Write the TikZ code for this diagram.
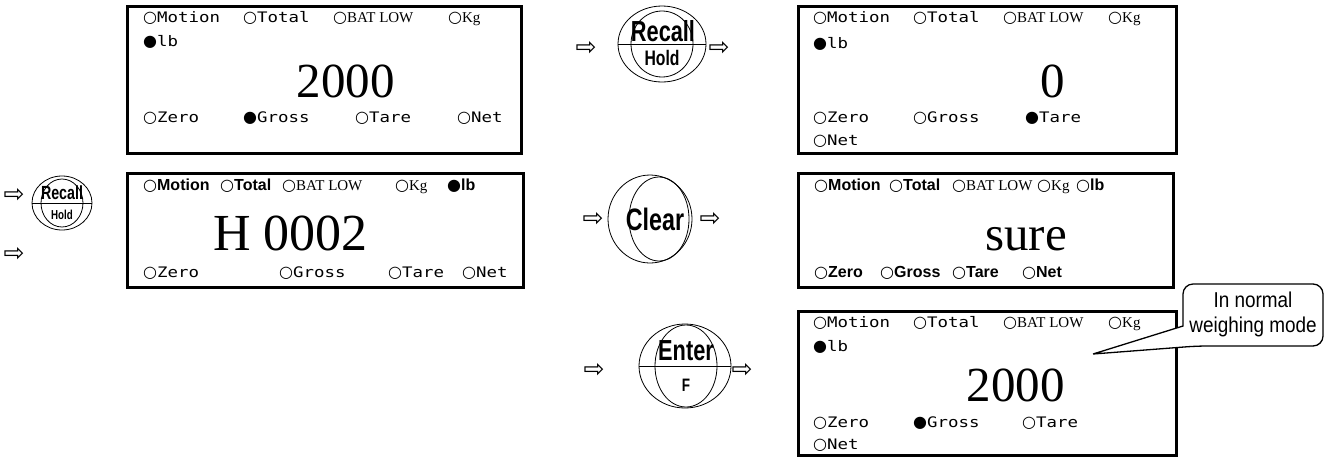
\documentclass[tikz,border=0pt]{standalone}
\usepackage{fontspec}
\setmainfont{Liberation Serif}
\newfontfamily\monof[FakeStretch=1.2]{DejaVu Sans Mono}
\newfontfamily\symf{DejaVu Sans}
\newfontfamily\condf[FakeStretch=0.75]{Liberation Sans}
\newfontfamily\boldsf{Liberation Sans}
\newfontfamily\callf[FakeStretch=0.88]{Liberation Sans}
\usetikzlibrary{shapes.geometric}
\newcommand\offc{{\symf\fontsize{16}{16}\selectfont ○}}
\newcommand\onc{{\symf\fontsize{16}{16}\selectfont ●}}
\tikzset{
  dispbox/.style={draw, line width=2.5pt, inner sep=0pt, anchor=north west},
  ms/.style={inner sep=0pt, anchor=base west, font=\monof\fontsize{14.5}{15}\selectfont},
  sr/.style={inner sep=0pt, anchor=base west, font=\fontsize{15}{15}\selectfont},
  bs/.style={inner sep=0pt, anchor=base west, font=\boldsf\bfseries\fontsize{16}{16}\selectfont},
  bignum/.style={inner sep=0pt, anchor=base east, font=\fontsize{49}{49}\selectfont},
  keyshape/.style={draw, ellipse, line width=0.8pt, inner sep=0pt},
  keytxt/.style={inner sep=0pt, anchor=base},
  arr/.style={inner sep=0pt, font=\symf\fontsize{25}{25}\selectfont},
}
\begin{document}
\begin{tikzpicture}[x=1pt,y=-1pt]
\useasboundingbox (0,0) rectangle (1327,456);
% ---------- display 1 ----------
\node[dispbox, minimum width=394pt, minimum height=147pt] (d1) at (126,5) {};
\node[ms] (d1a) at (143,22) {\offc Motion};
\node[ms] (d1b) at (243,22) {\offc Total};
\node[sr] (d1c) at (333,22) {\offc BAT LOW};
\node[sr] (d1d) at (448,22) {\offc Kg};
\node[ms] (d1e) at (143,46) {\onc lb};
\node[bignum] (d1n) at (395,97) {2000};
\node[ms] (d1f) at (143,122) {\offc Zero};
\node[ms] (d1g) at (243,122) {\onc Gross};
\node[ms] (d1h) at (355,122) {\offc Tare};
\node[ms] (d1i) at (457,122) {\offc Net};
% ---------- key Recall/Hold (top) ----------
\node[arr] (a1) at (586,48) {⇨};
\node[keyshape, minimum width=88pt, minimum height=76pt] (k1o) at (662,44) {};
\node[keyshape, minimum width=62pt, minimum height=66pt] (k1i) at (662,44) {};
\draw[line width=0.8pt] (k1o.west) -- (k1o.east);
\node[keytxt, font=\condf\bfseries\fontsize{29}{29}\selectfont] (k1t) at (663,41) {Recall};
\node[keytxt, font=\condf\bfseries\fontsize{21}{21}\selectfont] (k1b) at (662,65) {Hold};
\node[arr] (a2) at (719,48) {⇨};
% ---------- display 3 ----------
\node[dispbox, minimum width=378pt, minimum height=147pt] (d3) at (797,5) {};
\node[ms] (d3a) at (813,22) {\offc Motion};
\node[ms] (d3b) at (913,22) {\offc Total};
\node[sr] (d3c) at (1003,22) {\offc BAT LOW};
\node[sr] (d3d) at (1108,22) {\offc Kg};
\node[ms] (d3e) at (813,48) {\onc lb};
\node[bignum] (d3n) at (1065,97) {0};
\node[ms] (d3f) at (813,122) {\offc Zero};
\node[ms] (d3g) at (913,122) {\offc Gross};
\node[ms] (d3h) at (1025,122) {\onc Tare};
\node[ms] (d3i) at (813,145) {\offc Net};
% ---------- small key Recall/Hold (left) ----------
\node[arr] (a3) at (14,195) {⇨};
\node[arr] (a4) at (14,254) {⇨};
\node[keyshape, minimum width=60pt, minimum height=54pt] (k2o) at (62,203) {};
\node[keyshape, minimum width=42pt, minimum height=48pt] (k2i) at (62,203) {};
\draw[line width=0.8pt] (k2o.west) -- (k2o.east);
\node[keytxt, font=\condf\bfseries\fontsize{19}{19}\selectfont] (k2t) at (62,199) {Recall};
\node[keytxt, font=\condf\bfseries\fontsize{13}{13}\selectfont] (k2b) at (62,219) {Hold};
% ---------- display 2 ----------
\node[dispbox, minimum width=396pt, minimum height=114pt] (d2) at (126,172) {};
\node[bs] (d2a) at (143,190) {\offc Motion};
\node[bs] (d2b) at (220,190) {\offc Total};
\node[sr] (d2c) at (282,190) {\offc BAT LOW};
\node[sr] (d2d) at (395,190) {\offc Kg};
\node[bs] (d2e) at (447,190) {\onc lb};
\node[inner sep=0pt, anchor=base west, font=\fontsize{52}{52}\selectfont] (d2n) at (213,250) {H 0002};
\node[ms] (d2f) at (143,277) {\offc Zero};
\node[ms] (d2g) at (279,277) {\offc Gross};
\node[ms] (d2h) at (388,277) {\offc Tare};
\node[ms] (d2i) at (462,277) {\offc Net};
% ---------- key Clear ----------
\node[arr] (a5) at (593,219) {⇨};
\node[keyshape, minimum width=84pt, minimum height=88pt] (k3o) at (650,219) {};
\node[keyshape, minimum width=60pt, minimum height=84pt] (k3i) at (659,219) {};
\node[keytxt, font=\condf\bfseries\fontsize{31}{31}\selectfont] (k3t) at (655,230) {Clear};
\node[arr] (a6) at (710,219) {⇨};
% ---------- display 4 ----------
\node[dispbox, minimum width=375pt, minimum height=114pt] (d4) at (797,172) {};
\node[bs] (d4a) at (814,190) {\offc Motion};
\node[bs] (d4b) at (889,190) {\offc Total};
\node[sr] (d4c) at (952,190) {\offc BAT LOW};
\node[sr] (d4d) at (1037,190) {\offc Kg};
\node[bs] (d4e) at (1076,190) {\offc lb};
\node[bignum] (d4n) at (1067,250) {sure};
\node[bs] (d4f) at (814,277) {\offc Zero};
\node[bs] (d4g) at (880,277) {\offc Gross};
\node[bs] (d4h) at (952,277) {\offc Tare};
\node[bs] (d4i) at (1022,277) {\offc Net};
% ---------- key Enter/F ----------
\node[arr] (a7) at (594,370) {⇨};
\node[keyshape, minimum width=92pt, minimum height=84pt] (k4o) at (685,366) {};
\node[keyshape, minimum width=62pt, minimum height=82pt] (k4i) at (686,366) {};
\draw[line width=0.8pt] (k4o.west) -- (k4o.east);
\node[keytxt, font=\condf\bfseries\fontsize{29}{29}\selectfont] (k4t) at (686,360) {Enter};
\node[keytxt, font=\condf\bfseries\fontsize{18}{18}\selectfont] (k4b) at (686,391) {F};
\node[arr] (a8) at (742,370) {⇨};
% ---------- display 5 ----------
\node[dispbox, minimum width=378pt, minimum height=144pt] (d5) at (797,310) {};
\node[ms] (d5a) at (813,327) {\offc Motion};
\node[ms] (d5b) at (913,327) {\offc Total};
\node[sr] (d5c) at (1003,327) {\offc BAT LOW};
\node[sr] (d5d) at (1108,327) {\offc Kg};
\node[ms] (d5e) at (813,351) {\onc lb};
\node[bignum] (d5n) at (1065,401) {2000};
\node[ms] (d5f) at (813,427) {\offc Zero};
\node[ms] (d5g) at (913,427) {\onc Gross};
\node[ms] (d5h) at (1022,427) {\offc Tare};
\node[ms] (d5i) at (813,449) {\offc Net};
% ---------- callout ----------
\coordinate (tip) at (1093,354);
\draw[line width=1.3pt, fill=white] (tip) -- (1183,326) [rounded corners=10pt] -- (1183,284) -- (1323,284) -- (1323,346) -- (1197,346) [sharp corners] -- (tip);
\node[inner sep=0pt, align=center, font=\callf\fontsize{21.5}{25}\selectfont] (co) at (1253,314) {In normal\\weighing mode};
\end{tikzpicture}
\end{document}
